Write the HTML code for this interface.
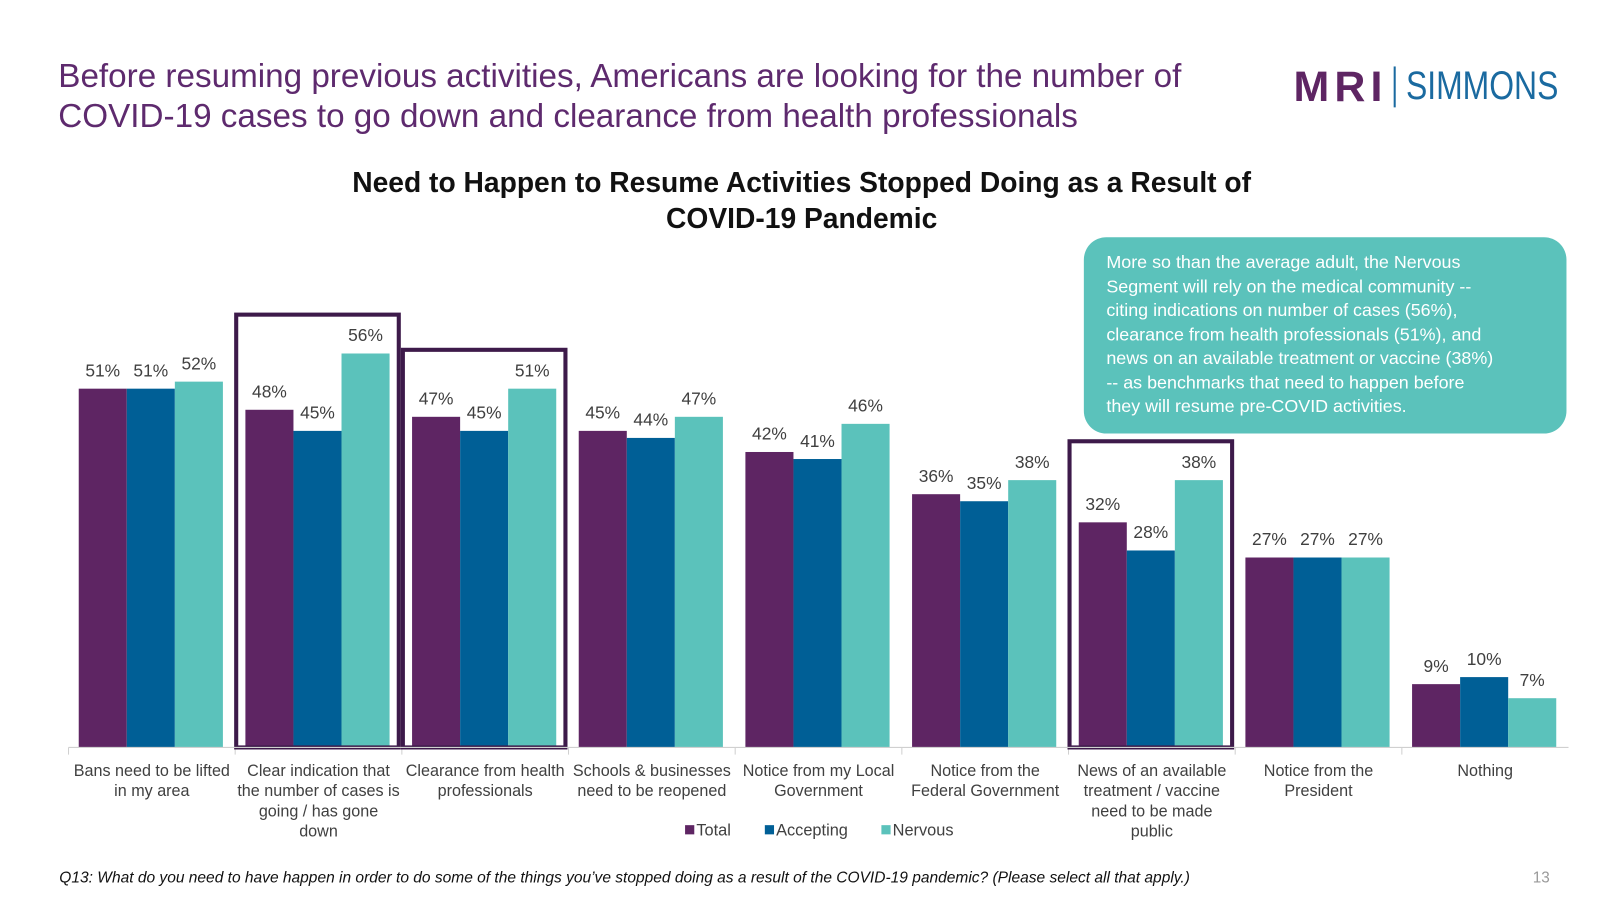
<!DOCTYPE html>
<html><head><meta charset="utf-8"><style>
body{margin:0;width:1600px;height:900px;background:#fff;font-family:"Liberation Sans",sans-serif;position:relative;overflow:hidden}
#wrap{position:absolute;left:0;top:0;width:1565px;height:880px;transform:scale(1.0225);transform-origin:0 0}
.a{position:absolute}
</style></head><body><div id="wrap">
<div class="a" style="left:57px;top:55px;font-size:32.5px;line-height:39px;color:#5e2a6e;white-space:nowrap">Before resuming previous activities, Americans are looking for the number of<br>COVID-19 cases to go down and clearance from health professionals</div>
<div class="a" style="left:1265px;top:63px;height:44px;display:flex;align-items:center">
<span style="font-size:42px;font-weight:900;color:#5e2563;letter-spacing:5px">MRI</span>
<span style="width:2px;height:40px;background:#1a6aa0;margin:0 10px 0 6px"></span>
<span style="font-size:39px;color:#1a6aa0;transform:scaleX(0.8);transform-origin:left;display:inline-block">SIMMONS</span></div>
<div class="a" style="left:234px;width:1100px;top:161px;text-align:center;font-size:27.6px;line-height:35px;font-weight:bold;color:#111">Need to Happen to Resume Activities Stopped Doing as a Result of<br>COVID-19 Pandemic</div>
<div class="a" style="left:1060px;top:232px;width:428px;height:192px;padding:0 22px;background:#5bc2bb;border-radius:22px;color:#fff;font-size:17.5px;line-height:23.5px;white-space:nowrap"><div style="padding-top:13px">More so than the average adult, the Nervous<br>Segment will rely on the medical community --<br>citing indications on number of cases (56%),<br>clearance from health professionals (51%), and<br>news on an available treatment or vaccine (38%)<br>-- as benchmarks that need to happen before<br>they will resume pre-COVID activities.</div></div>
<svg class="a" id="chart" style="left:0;top:0" width="1565" height="880"></svg>
<div class="a" style="left:58px;top:850px;font-size:15.2px;font-style:italic;color:#111;white-space:nowrap">Q13: What do you need to have happen in order to do some of the things you’ve stopped doing as a result of the COVID-19 pandemic? (Please select all that apply.)</div>
<div class="a" style="left:1499px;top:850px;font-size:15px;color:#999">13</div>
</div>
<script>
const categories=[["Bans need to be lifted","in my area"],["Clear indication that","the number of cases is","going / has gone","down"],["Clearance from health","professionals"],["Schools & businesses","need to be reopened"],["Notice from my Local","Government"],["Notice from the","Federal Government"],["News of an available","treatment / vaccine","need to be made","public"],["Notice from the","President"],["Nothing"]];
const totalValues=[51,48,47,45,42,36,32,27,9];
const acceptingValues=[51,45,45,44,41,35,28,27,10];
const nervousValues=[52,56,51,47,46,38,38,27,7];
const seriesNames=["Total","Accepting","Nervous"];
const highlighted=[1,2,6];
const colors=["#5e2563","#005f96","#5bc2bb"];
const svg=document.getElementById('chart');const NS="http://www.w3.org/2000/svg";
const x0=67,gw=163.0,base=731,ppu=6.88,bw=47;
const y=v=>base-v*ppu;
function mk(t,a){const e=document.createElementNS(NS,t);for(const k in a)e.setAttribute(k,a[k]);svg.appendChild(e);return e;}
const series=[totalValues,acceptingValues,nervousValues];
categories.forEach((c,i)=>{
 const gx=x0+gw*i;
 series.forEach((vals,s)=>{
  const bx=gx+10+s*bw;
  const r=mk('rect',{x:bx,y:y(vals[i]),width:bw,height:vals[i]*ppu,fill:colors[s]});
  
  
  const t=mk('text',{x:bx+bw/2,y:y(vals[i])-12,'text-anchor':'middle','font-size':17,fill:'#404040','font-family':'Liberation Sans, sans-serif'});
  t.textContent=vals[i]+'%';
  
  
 });
 c.forEach((ln,j)=>{const t=mk('text',{x:gx+gw/2,y:759+j*19.7,'text-anchor':'middle','font-size':15.8,fill:'#404040','font-family':'Liberation Sans, sans-serif'});t.textContent=ln;
  
  });
 const tk=mk('line',{x1:gx,x2:gx,y1:base,y2:base+7,stroke:'#d0d0d0'});
 
 
 if(highlighted.includes(i)){
  const mx=Math.max(totalValues[i],acceptingValues[i],nervousValues[i]);
  const b=mk('rect',{x:gx+1,y:y(mx)-38,width:gw-4,height:mx*ppu+38,fill:'none',stroke:'#3d1a4a','stroke-width':4});
  
  
 }
});
const ax=mk('line',{x1:x0,x2:x0+gw*9,y1:base,y2:base,stroke:'#d0d0d0'});


const lx=[670,748,862];
seriesNames.forEach((n,s)=>{
 const r=mk('rect',{x:lx[s],y:807,width:9,height:9,fill:colors[s]});
 
 
 const t=mk('text',{x:lx[s]+11,y:817,'font-size':16,fill:'#404040','font-family':'Liberation Sans, sans-serif'});t.textContent=n;
 
 
});
</script>
</body></html>
